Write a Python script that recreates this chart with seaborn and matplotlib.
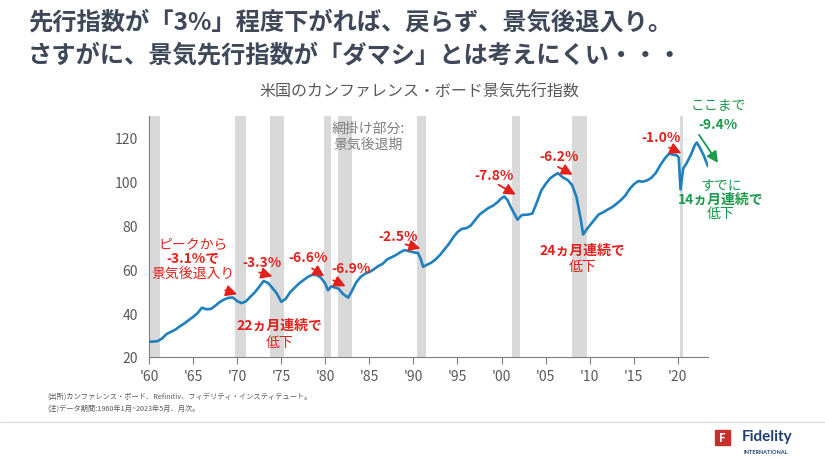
import matplotlib.pyplot as plt
import matplotlib.patches as mpatches
from matplotlib.lines import Line2D
import seaborn as sns
import pandas as pd

# Conference Board LEI
years = [
    1960.0, 1960.5, 1961.0, 1961.5, 1962.0, 1962.5, 1963.0, 1963.5, 1964.0, 1964.5,
    1965.0, 1965.5, 1966.0, 1966.5, 1967.0, 1967.5, 1968.0, 1968.5, 1969.0, 1969.5,
    1970.0, 1970.5, 1971.0, 1971.5, 1972.0, 1972.5, 1973.0, 1973.5, 1974.0, 1974.5,
    1975.0, 1975.5, 1976.0, 1976.5, 1977.0, 1977.5, 1978.0, 1978.5, 1979.0, 1979.5,
    1980.0, 1980.3, 1980.7, 1981.0, 1981.5, 1982.0, 1982.6, 1983.0, 1983.5, 1984.0,
    1984.5, 1985.0, 1985.5, 1986.0, 1986.5, 1987.0, 1987.5, 1988.0, 1988.5, 1989.0,
    1989.5, 1990.0, 1990.5, 1990.8, 1991.1, 1991.5, 1992.0, 1992.5, 1993.0, 1993.5,
    1994.0, 1994.5, 1995.0, 1995.5, 1996.0, 1996.5, 1997.0, 1997.5, 1998.0, 1998.5,
    1999.0, 1999.5, 2000.0, 2000.3, 2000.7, 2001.0, 2001.5, 2001.8, 2002.3, 2003.0,
    2003.5, 2004.0, 2004.5, 2005.0, 2005.5, 2006.0, 2006.4, 2007.0, 2007.5, 2008.0,
    2008.5, 2009.0, 2009.25, 2009.7, 2010.3, 2011.0, 2011.5, 2012.0, 2012.5, 2013.0,
    2013.5, 2014.0, 2014.5, 2015.0, 2015.5, 2016.0, 2016.5, 2017.0, 2017.5, 2018.0,
    2018.5, 2019.0, 2019.5, 2019.9, 2020.1, 2020.3, 2020.6, 2021.0, 2021.5, 2021.9,
    2022.15, 2022.5, 2022.9, 2023.42,
]
lei = [
    27.0, 27.0, 27.3, 28.5, 30.5, 31.5, 32.5, 34.0, 35.3, 36.8,
    38.3, 40.0, 42.5, 41.8, 41.9, 43.3, 45.0, 46.2, 47.0, 47.2,
    45.5, 44.6, 45.4, 47.5, 49.5, 52.0, 54.7, 53.8, 51.5, 49.0,
    45.2, 46.5, 49.5, 51.5, 53.5, 55.0, 56.5, 57.5, 57.4, 56.2,
    53.5, 50.5, 52.3, 51.8, 51.2, 48.8, 47.1, 50.0, 54.0, 56.5,
    58.0, 58.8, 60.0, 61.5, 62.5, 64.5, 65.5, 66.5, 67.8, 68.8,
    68.3, 67.8, 67.5, 65.0, 61.2, 62.0, 63.0, 64.5, 66.5, 69.0,
    71.5, 74.5, 77.0, 78.5, 78.8, 80.0, 82.5, 85.0, 86.5, 88.0,
    89.0, 90.5, 92.5, 93.3, 91.5, 88.8, 85.0, 82.7, 84.8, 85.0,
    85.5, 90.5, 96.0, 99.0, 101.5, 103.0, 103.9, 101.8, 100.8, 98.5,
    93.0, 82.5, 75.9, 78.5, 81.5, 85.0, 86.0, 87.2, 88.3, 89.8,
    91.5, 93.5, 96.5, 98.8, 100.3, 100.0, 100.6, 101.8, 104.0, 107.5,
    110.5, 112.8, 112.3, 112.0, 111.0, 96.5, 106.0, 108.5, 112.5, 116.5,
    117.9, 115.5, 112.3, 107.0,
]

# recession periods (start, end)
rec_start = [1960.1, 1969.8, 1973.75, 1979.9, 1981.4, 1990.4, 2001.2, 2008.0, 2020.2]
rec_end = [1961.2, 1971.0, 1975.3, 1980.6, 1983.0, 1991.4, 2002.1, 2009.7, 2020.6]

xticks = [1960, 1965, 1970, 1975, 1980, 1985, 1990, 1995, 2000, 2005, 2010, 2015, 2020]
xticklabels = ["'60", "'65", "'70", "'75", "'80", "'85", "'90", "'95", "'00", "'05", "'10", "'15", "'20"]
yticks = [20, 40, 60, 80, 100, 120]

df = pd.DataFrame({"year": years, "lei": lei})

sns.set_theme(style="white")
plt.rcParams["font.family"] = ["Noto Sans CJK JP", "DejaVu Sans"]

RED = "#e3211c"
GREEN = "#1a9a4c"
BLUE = "#1f80bf"
GREY = "#595959"

fig = plt.figure(figsize=(8.25, 4.64), dpi=100)
ax = fig.add_axes([149 / 825, 1 - 358 / 464, (708 - 149) / 825, (358 - 117) / 464])

for s, e in zip(rec_start, rec_end):
    ax.axvspan(s, e, color="#d9d9d9", lw=0, zorder=0)

sns.lineplot(data=df, x="year", y="lei", ax=ax, color=BLUE, lw=1.9, estimator=None, zorder=3)

ax.set_xlim(1960, 2023.42)
ax.set_ylim(20, 130)
ax.set_xticks(xticks)
ax.set_xticklabels(xticklabels)
ax.set_yticks(yticks)
ax.set_xlabel("")
ax.set_ylabel("")
ax.tick_params(axis="x", length=5, width=0.8, color="#7f7f7f", labelsize=10, labelcolor=GREY, pad=4, bottom=True)
ax.tick_params(axis="y", length=0, labelsize=10, labelcolor=GREY, pad=8)
for side in ["top", "right"]:
    ax.spines[side].set_visible(False)
for side in ["left", "bottom"]:
    ax.spines[side].set_color("#7f7f7f")
    ax.spines[side].set_linewidth(0.8)


def arrow(tail, head, color):
    ax.annotate("", xy=head, xytext=tail,
                arrowprops=dict(arrowstyle="-|>,head_length=0.55,head_width=0.28",
                                color=color, lw=1.3, shrinkA=0, shrinkB=0),
                zorder=5, annotation_clip=False)


def label(x, y, s, color=RED, bold=False, size=10):
    ax.text(x, y, s, color=color, fontsize=size, ha="center", va="center",
            fontweight="bold" if bold else "normal", zorder=6, clip_on=False)


# 1970
label(1965.0, 71.8, "ピークから")
label(1965.0, 65.0, "-3.1%で", bold=True)
label(1965.0, 58.2, "景気後退入り")
arrow((1968.64, 50.45), (1970.0, 48.6), RED)
# 1973
label(1972.84, 63.2, "-3.3%", bold=True)
arrow((1972.5, 58.6), (1974.0, 56.8), RED)
label(1974.8, 34.5, "22ヵ月連続で", bold=True)
label(1974.8, 26.8, "低下")
# 1980
label(1978.07, 65.5, "-6.6%", bold=True)
arrow((1978.5, 60.45), (1979.9, 56.8), RED)
label(1982.95, 60.45, "-6.9%", bold=True)
arrow((1980.9, 55.0), (1982.3, 52.3), RED)
# 1990
label(1988.3, 75.45, "-2.5%", bold=True)
arrow((1989.1, 71.4), (1990.8, 69.5), RED)
# shading note
label(1984.9, 124.5, "網掛け部分:", color="#7f7f7f")
label(1984.9, 117.3, "景気後退期", color="#7f7f7f")
# 2001
label(1999.1, 103.2, "-7.8%", bold=True)
arrow((1999.66, 98.6), (2001.6, 94.1), RED)
# 2008
label(2006.5, 111.8, "-6.2%", bold=True)
arrow((2006.4, 106.8), (2008.07, 103.2), RED)
label(2009.2, 69.1, "24ヵ月連続で", bold=True)
label(2009.2, 61.4, "低下")
# 2020
label(2018.07, 120.45, "-1.0%", bold=True)
arrow((2019.0, 115.6), (2020.4, 113.0), RED)
# now
label(2024.6, 135.5, "ここまで", color=GREEN)
label(2024.6, 126.4, "-9.4%", color=GREEN, bold=True)
arrow((2022.4, 121.4), (2024.55, 108.6), GREEN)
label(2024.9, 99.1, "すでに", color=GREEN)
label(2024.9, 92.3, "14ヵ月連続で", color=GREEN, bold=True)
label(2024.9, 85.5, "低下", color=GREEN)

# titles
TITLE = "#3e4858"
fig.text(28 / 825, 1 - 22 / 464, "先行指数が「3%」程度下がれば、戻らず、景気後退入り。",
         fontsize=17.5, fontweight="bold", color=TITLE, ha="left", va="center")
fig.text(28 / 825, 1 - 55 / 464, "さすがに、景気先行指数が「ダマシ」とは考えにくい・・・",
         fontsize=17.5, fontweight="bold", color=TITLE, ha="left", va="center")
fig.text(419 / 825, 1 - 92 / 464, "米国のカンファレンス・ボード景気先行指数",
         fontsize=11.5, color=GREY, ha="center", va="center")

# footnotes
fig.text(47 / 825, 1 - 397 / 464, "(出所)カンファレンス・ボード、Refinitiv、フィデリティ・インスティテュート。",
         fontsize=5.2, color=GREY, ha="left", va="center")
fig.text(47 / 825, 1 - 409 / 464, "(注)データ期間:1960年1月~2023年5月、月次。",
         fontsize=5.2, color=GREY, ha="left", va="center")

# bottom rule + logo
fig.add_artist(Line2D([0, 1], [1 - 423 / 464, 1 - 423 / 464], color="#d9d9d9", lw=0.8))
fig.add_artist(mpatches.Rectangle((715 / 825, 1 - 446 / 464), 15 / 825, 15 / 464,
                                  color="#c8302c", transform=fig.transFigure))
fig.text(722.5 / 825, 1 - 438.5 / 464, "F", fontsize=8, fontweight="bold", color="white",
         ha="center", va="center")
fig.text(742 / 825, 1 - 437 / 464, "Fidelity", fontsize=11, fontweight="bold",
         color="#1e3f73", ha="left", va="center", family=["Lato", "DejaVu Sans"])
fig.text(744 / 825, 1 - 453 / 464, "INTERNATIONAL", fontsize=4, fontweight="bold",
         color="#1e3f73", ha="left", va="center", family=["Lato", "DejaVu Sans"])

plt.savefig("out.png", dpi=100)
